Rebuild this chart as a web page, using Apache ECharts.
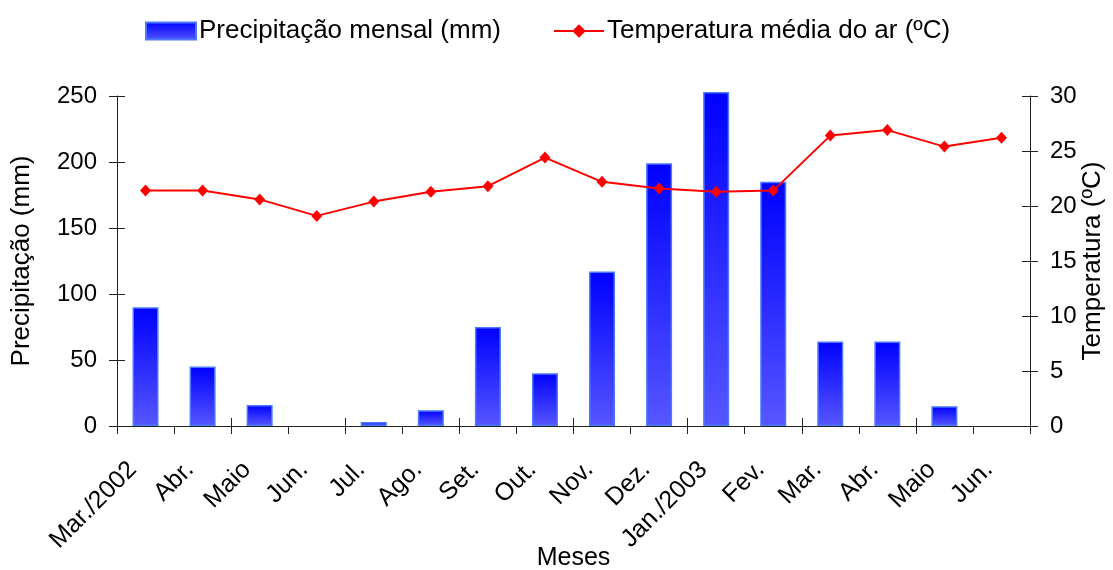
<!DOCTYPE html>
<html>
<head>
<meta charset="utf-8">
<script src="https://cdn.jsdelivr.net/npm/echarts@6/dist/echarts.min.js"></script>
<style>html,body{margin:0;padding:0;background:#fff}#c{width:1113px;height:570px}</style>
</head>
<body>
<div id="c"></div>
<script>
var months = ['Mar./2002','Abr.','Maio','Jun.','Jul.','Ago.','Set.','Out.','Nov.','Dez.','Jan./2003','Fev.','Mar.','Abr.','Maio','Jun.'];
var precipitacao = [90, 45, 16, 0, 3, 12, 75, 40, 117, 199, 253, 185, 64, 64, 15, 0];
var temperatura = [21.4, 21.4, 20.6, 19.1, 20.4, 21.3, 21.8, 24.4, 22.2, 21.6, 21.3, 21.4, 26.4, 26.9, 25.4, 26.2];
var precipTicks = {min: 0, max: 250, interval: 50};
var tempTicks = {min: 0, max: 30, interval: 5};

var FONT = 'Liberation Sans, Arial, sans-serif';
var AX = '#222';
var chart = echarts.init(document.getElementById('c'));
var barGrad = new echarts.graphic.LinearGradient(0, 0, 0, 1, [
  {offset: 0, color: '#0000ff'},
  {offset: 1, color: '#5656ff'}
]);
var barData = precipitacao.map(function (v) {
  return v === 0 ? {value: v, itemStyle: {borderWidth: 0, opacity: 0}} : v;
});
chart.setOption({
  animation: false,
  textStyle: {fontFamily: FONT, color: '#000'},
  legend: {
    left: 140, top: 13,
    itemWidth: 50, itemHeight: 17, itemGap: 52,
    textStyle: {fontSize: 26, fontFamily: FONT, color: '#000', padding: [0,0,0,-2]},
    data: [
      {name: 'Precipitação mensal (mm)', icon: 'rect'},
      {name: 'Temperatura média do ar (ºC)'}
    ]
  },
  grid: {left: 117, right: 83, top: 96, bottom: 144, outerBoundsMode: 'none', containLabel: false},
  xAxis: [{
    type: 'category', data: months, position: 'bottom',
    name: 'Meses', nameLocation: 'middle', nameGap: 120, nameMoveOverlap: false,
    nameTextStyle: {fontSize: 25, color: '#000', fontFamily: FONT},
    axisLine: {lineStyle: {color: AX, width: 1}},
    axisTick: {show: true, length: 8, lineStyle: {color: AX}},
    axisLabel: {rotate: 45, fontSize: 25, color: '#000', margin: 27, padding: [0, 18, 0, 0], interval: 0, fontFamily: FONT}
  }, {
    type: 'category', data: months, position: 'bottom',
    axisLine: {show: false},
    axisTick: {show: true, inside: true, length: 8, lineStyle: {color: AX}},
    axisLabel: {show: false}
  }],
  yAxis: [{
    type: 'value', position: 'left', min: precipTicks.min, max: precipTicks.max, interval: precipTicks.interval,
    name: 'Precipitação (mm)', nameLocation: 'middle', nameGap: 82, nameRotate: 90, nameMoveOverlap: false,
    nameTextStyle: {fontSize: 26, color: '#000', fontFamily: FONT},
    axisLine: {show: true, lineStyle: {color: AX}},
    axisTick: {show: true, length: 8, lineStyle: {color: AX}},
    axisLabel: {fontSize: 24, color: '#000', margin: 20, fontFamily: FONT},
    splitLine: {show: false}
  }, {
    type: 'value', position: 'right', min: tempTicks.min, max: tempTicks.max, interval: tempTicks.interval,
    name: 'Temperatura (ºC)', nameLocation: 'middle', nameGap: 50, nameRotate: 90, nameMoveOverlap: false,
    nameTextStyle: {fontSize: 26, color: '#000', fontFamily: FONT},
    axisLine: {show: true, lineStyle: {color: AX}},
    axisTick: {show: true, length: 8, lineStyle: {color: AX}},
    axisLabel: {fontSize: 24, color: '#000', margin: 20, fontFamily: FONT},
    splitLine: {show: false}
  }, {
    type: 'value', position: 'left', min: precipTicks.min, max: precipTicks.max, interval: precipTicks.interval,
    axisLine: {show: false},
    axisTick: {show: true, inside: true, length: 8, lineStyle: {color: AX}},
    axisLabel: {show: false}, splitLine: {show: false}
  }, {
    type: 'value', position: 'right', min: tempTicks.min, max: tempTicks.max, interval: tempTicks.interval,
    axisLine: {show: false},
    axisTick: {show: true, inside: true, length: 8, lineStyle: {color: AX}},
    axisLabel: {show: false}, splitLine: {show: false}
  }],
  series: [{
    name: 'Precipitação mensal (mm)', type: 'bar', data: barData, clip: false,
    xAxisIndex: 0, yAxisIndex: 0, barWidth: 26,
    itemStyle: {color: barGrad, borderColor: '#4a78ff', borderWidth: 1.5}
  }, {
    name: 'Temperatura média do ar (ºC)', type: 'line', data: temperatura,
    xAxisIndex: 0, yAxisIndex: 1,
    symbol: 'diamond', symbolSize: [11, 12], showAllSymbol: true,
    lineStyle: {color: '#ff0000', width: 2},
    itemStyle: {color: '#ff0000'}
  }]
});
</script>
</body>
</html>
